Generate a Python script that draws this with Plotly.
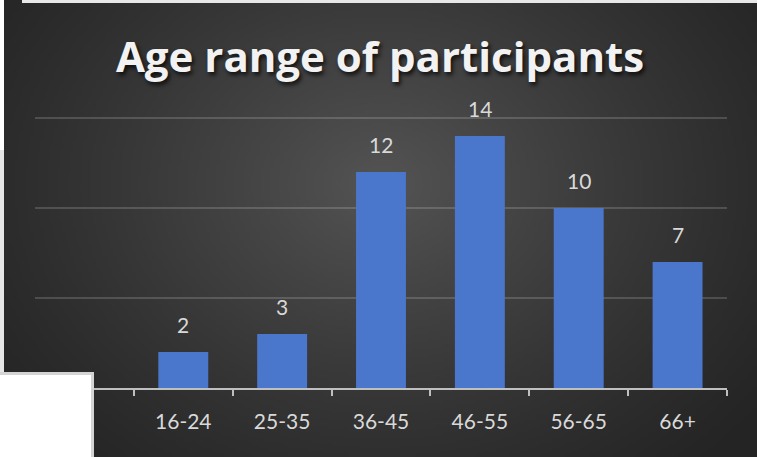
import base64
import struct
import zlib

import numpy as np
import plotly.graph_objects as go

# Survey data: number of participants per age band
age_bands = ["16-24", "25-35", "36-45", "46-55", "56-65", "66+"]
participants = [2, 3, 12, 14, 10, 7]

TITLE = "Age range of participants"

# Figure geometry (pixels); 18 px per participant on the value axis
W, H = 757, 457
PLOT_L, PLOT_R = 35, 727
PLOT_B = 388
Y_MAX = 15.5
PLOT_T = PLOT_B - 18 * Y_MAX


def px_x(px):
    return (px - PLOT_L) / (PLOT_R - PLOT_L)


def px_y(py):
    return (PLOT_B - py) / (PLOT_B - PLOT_T)


def make_png(arr):
    h, w, _ = arr.shape
    raw = b"".join(b"\x00" + arr[i].tobytes() for i in range(h))

    def chunk(tag, data):
        c = struct.pack(">I", len(data)) + tag + data
        return c + struct.pack(">I", zlib.crc32(tag + data) & 0xFFFFFFFF)

    png = b"\x89PNG\r\n\x1a\n"
    png += chunk(b"IHDR", struct.pack(">IIBBBBB", w, h, 8, 2, 0, 0, 0))
    png += chunk(b"IDAT", zlib.compress(raw, 9))
    png += chunk(b"IEND", b"")
    return "data:image/png;base64," + base64.b64encode(png).decode()


# Radial dark-grey backdrop for the chart area
gw, gh = 300, 180
yy, xx = np.mgrid[0:gh, 0:gw]
cx, cy = gw * 0.5, gh * 0.40
r = np.sqrt(((xx - cx) / (gw * 0.5)) ** 2 + ((yy - cy) / (gh * 0.65)) ** 2)
r = np.clip(r / 1.3, 0, 1)
inner, outer = 84.0, 36.0
val = outer + (inner - outer) * (1 - r) ** 1.2
grad = np.repeat(val[:, :, None], 3, axis=2).astype(np.uint8)
bg_src = make_png(grad)

LABEL_COLOR = "#D9D9D9"
LABEL_FONT = "Lato, 'Open Sans', sans-serif"

fig = go.Figure()
fig.add_trace(
    go.Bar(
        x=age_bands,
        y=participants,
        marker=dict(color="#4A77CC", line=dict(width=0)),
        hoverinfo="x+y",
    )
)

# value labels above each bar
annotations = [
    dict(
        x=band,
        y=v,
        xref="x",
        yref="y",
        text=str(v),
        showarrow=False,
        yanchor="bottom",
        yshift=13,
        font=dict(family=LABEL_FONT, size=21, color=LABEL_COLOR),
    )
    for band, v in zip(age_bands, participants)
]


def rect(x0, y0, x1, y1, color):
    return dict(
        type="rect",
        xref="paper",
        yref="paper",
        x0=px_x(x0),
        x1=px_x(x1),
        y0=px_y(y0),
        y1=px_y(y1),
        fillcolor=color,
        line=dict(width=0),
        layer="above",
    )


shapes = [
    rect(22, 0, W, 3, "#E8E8E8"),
    rect(0, 0, 4, 150, "#FFFFFF"),
    rect(0, 150, 4, 373, "#E6E6E6"),
    rect(0, 372, 94, H, "#D4D4D4"),
    rect(0, 375, 91, H, "#FFFFFF"),
]

fig.update_layout(
    width=W,
    height=H,
    margin=dict(l=PLOT_L, r=W - PLOT_R, t=PLOT_T, b=H - PLOT_B, pad=0),
    paper_bgcolor="#E8E8E8",
    plot_bgcolor="rgba(0,0,0,0)",
    bargap=0.495,
    showlegend=False,
    title=dict(
        text=TITLE,
        x=380 / W,
        xref="container",
        xanchor="center",
        y=1 - 57 / H,
        yref="container",
        yanchor="middle",
        font=dict(
            family="'Open Sans', sans-serif",
            size=42,
            weight="bold",
            color="#F2F2F2",
            shadow="2px 3px 4px rgba(0,0,0,0.75)",
        ),
    ),
    xaxis=dict(
        type="category",
        range=[-1.5, len(age_bands) - 0.5],
        tickson="boundaries",
        ticks="outside",
        ticklen=6,
        tickwidth=2,
        tickcolor="#BFBFBF",
        showline=True,
        linecolor="#BFBFBF",
        linewidth=2,
        showgrid=False,
        ticklabelstandoff=14,
        tickfont=dict(family=LABEL_FONT, size=21, color=LABEL_COLOR),
        fixedrange=True,
    ),
    yaxis=dict(
        range=[0, Y_MAX],
        dtick=5,
        showticklabels=False,
        showgrid=True,
        gridcolor="rgba(255,255,255,0.16)",
        gridwidth=2,
        zeroline=False,
        fixedrange=True,
    ),
    images=[
        dict(
            source=bg_src,
            xref="paper",
            yref="paper",
            x=px_x(4),
            y=px_y(0),
            sizex=(W - 4) / (PLOT_R - PLOT_L),
            sizey=H / (PLOT_B - PLOT_T),
            xanchor="left",
            yanchor="top",
            sizing="stretch",
            layer="below",
        )
    ],
    annotations=annotations,
    shapes=shapes,
)

fig.write_html("out.html")
